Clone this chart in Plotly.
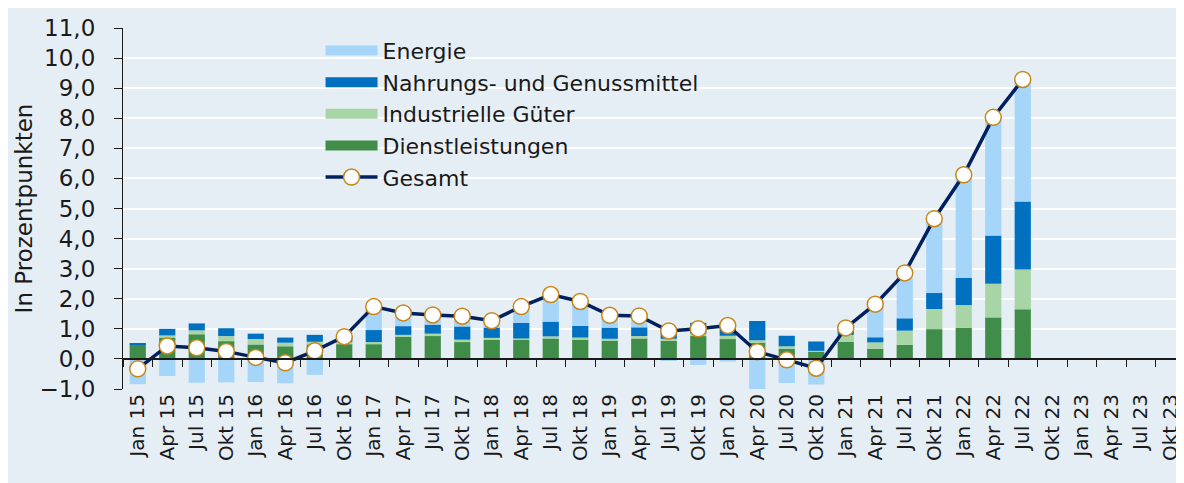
import plotly.graph_objects as go

categories = ["Jan 15", "Apr 15", "Jul 15", "Okt 15", "Jan 16", "Apr 16", "Jul 16", "Okt 16",
              "Jan 17", "Apr 17", "Jul 17", "Okt 17", "Jan 18", "Apr 18", "Jul 18", "Okt 18",
              "Jan 19", "Apr 19", "Jul 19", "Okt 19", "Jan 20", "Apr 20", "Jul 20", "Okt 20",
              "Jan 21", "Apr 21", "Jul 21", "Okt 21", "Jan 22", "Apr 22", "Jul 22", "Okt 22",
              "Jan 23", "Apr 23", "Jul 23", "Okt 23"]

dienstleistungen = [0.48, 0.71, 0.82, 0.59, 0.48, 0.42, 0.48, 0.49, 0.49, 0.74, 0.76, 0.56,
                    0.63, 0.63, 0.68, 0.65, 0.62, 0.68, 0.60, 0.76, 0.66, 0.56, 0.34, 0.24,
                    0.57, 0.34, 0.47, 0.99, 1.03, 1.38, 1.65, None, None, None, None, None]
industrie = [0.00, 0.07, 0.13, 0.17, 0.18, 0.12, 0.09, 0.07, 0.07, 0.06, 0.08, 0.08,
             0.07, 0.05, 0.07, 0.06, 0.05, 0.08, 0.07, 0.08, 0.11, 0.06, 0.08, 0.03,
             0.23, 0.21, 0.47, 0.67, 0.76, 1.12, 1.32, None, None, None, None, None]
nahrung = [0.05, 0.22, 0.23, 0.26, 0.18, 0.17, 0.23, 0.15, 0.40, 0.29, 0.30, 0.44,
           0.34, 0.52, 0.49, 0.39, 0.37, 0.29, 0.33, 0.36, 0.42, 0.64, 0.35, 0.31,
           0.22, 0.17, 0.41, 0.53, 0.90, 1.60, 2.26, None, None, None, None, None]
energie = [-0.84, -0.57, -0.79, -0.78, -0.77, -0.81, -0.53, 0.03, 0.78, 0.44, 0.32, 0.34,
           0.22, 0.54, 0.90, 0.80, 0.41, 0.38, -0.07, -0.20, -0.09, -1.01, -0.80, -0.85,
           0.01, 1.10, 1.51, 2.47, 3.43, 3.93, 4.06, None, None, None, None, None]
gesamt = [-0.33, 0.43, 0.37, 0.25, 0.05, -0.13, 0.27, 0.74, 1.74, 1.53, 1.46, 1.42,
          1.27, 1.74, 2.14, 1.91, 1.45, 1.43, 0.93, 1.00, 1.11, 0.24, -0.03, -0.31,
          1.03, 1.82, 2.86, 4.66, 6.12, 8.03, 9.29, None, None, None, None, None]

y_ticks = [-1, 0, 1, 2, 3, 4, 5, 6, 7, 8, 9, 10, 11]

FONT = "DejaVu Sans"
BG = "#e6eef5"

fig = go.Figure()
series = [
    ("Dienstleistungen", dienstleistungen, "#3f8d48", 4),
    ("Industrielle Güter", industrie, "#a8d5a6", 3),
    ("Nahrungs- und Genussmittel", nahrung, "#0070c0", 2),
    ("Energie", energie, "#a5d6fa", 1),
]
for name, vals, color, rank in series:
    fig.add_trace(go.Bar(x=categories, y=vals, name=name, marker_color=color,
                         marker_line_width=0, showlegend=False, legendgroup=name))
    # legend-only entry drawn as a wide band, like the reference's legend keys
    fig.add_trace(go.Scatter(x=[None], y=[None], name=name, mode="lines",
                             legendgroup=name, legendrank=rank,
                             line=dict(color=color, width=15)))

fig.add_trace(go.Scatter(x=categories, y=gesamt, name="Gesamt", mode="lines+markers",
                         xaxis="x2", legendrank=5,
                         line=dict(color="#002060", width=3.5),
                         marker=dict(symbol="circle", size=16, color="white",
                                     line=dict(color="#c8861a", width=1.5))))

fig.update_layout(
    width=1184, height=483,
    margin=dict(l=115, r=7, t=17, b=102),
    paper_bgcolor=BG, plot_bgcolor=BG,
    barmode="relative", bargap=0.45,
    separators=",.",
    font=dict(family=FONT, size=20, color="#1a1a1a"),
    showlegend=True,
    legend=dict(x=0.186, y=0.995, xanchor="left", yanchor="top",
                bgcolor="rgba(0,0,0,0)", font=dict(size=22, family=FONT),
                tracegroupgap=0, itemwidth=52, groupclick="togglegroup"),
    xaxis=dict(type="category", categoryorder="array", categoryarray=categories,
               range=[-0.5, 35.5], tickangle=-90, showline=False, ticks="",
               showgrid=False, tickfont=dict(size=20), ticklabelstandoff=0),
    xaxis2=dict(type="category", categoryorder="array", categoryarray=categories,
                range=[-0.5, 35.5], overlaying="x", anchor="free", position=1/12,
                side="bottom", showline=True, linecolor="#1a1a1a", linewidth=1.5,
                ticks="outside", tickson="boundaries", ticklen=7, tickcolor="#1a1a1a",
                tickwidth=1.2, showticklabels=False, showgrid=False),
    yaxis=dict(range=[-1, 11], tickvals=y_ticks, tickformat=".1f",
               showline=True, linecolor="#1a1a1a", linewidth=1.2,
               ticks="outside", ticklen=8, tickcolor="#1a1a1a",
               showgrid=True, gridcolor="white", gridwidth=1.5, zeroline=False,
               tickfont=dict(size=23), ticklabelstandoff=14,
               title=dict(text="In Prozentpunkten", font=dict(size=23), standoff=0)),
)

fig.write_html("out.html")
